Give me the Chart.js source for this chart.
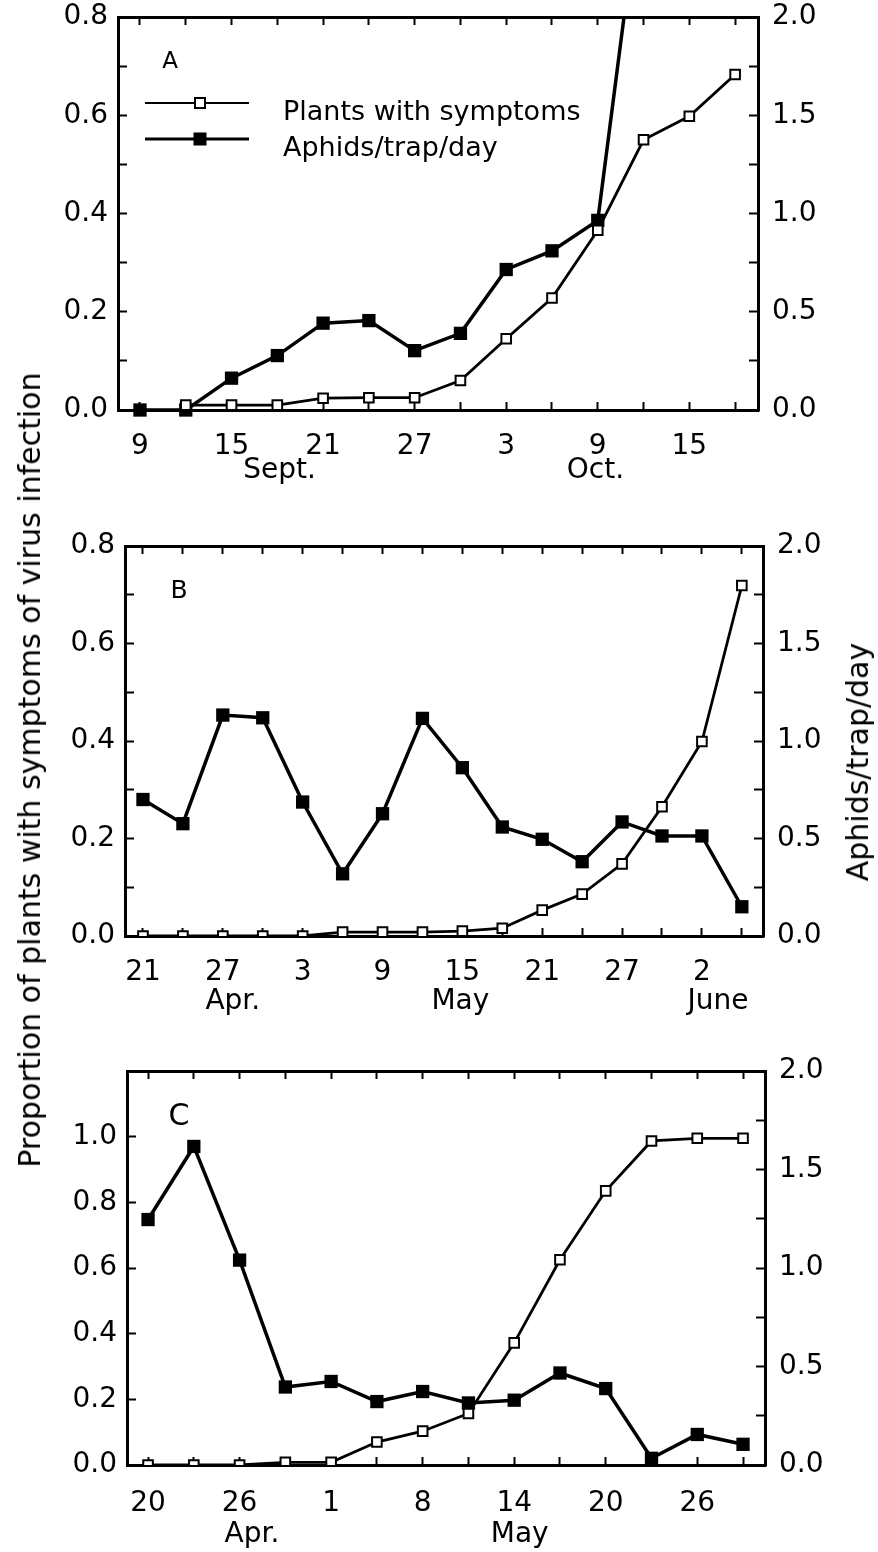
<!DOCTYPE html>
<html>
<head>
<meta charset="utf-8">
<script src="https://cdn.jsdelivr.net/npm/chart.js@4.4.1/dist/chart.umd.min.js"></script>
<style>
html,body{margin:0;padding:0;background:#fff;}
body{width:878px;height:1552px;position:relative;overflow:hidden;font-family:"DejaVu Sans",sans-serif;color:#000;}
.panel{position:absolute;left:0;width:878px;}
.ttl{position:absolute;white-space:nowrap;font-size:30px;line-height:1;transform:translate(-50%,-50%) rotate(-90deg);}
</style>
</head>
<body>
<div class="panel" style="top:0;height:500px"><canvas id="cA"></canvas></div>
<div class="panel" style="top:520px;height:520px"><canvas id="cB"></canvas></div>
<div class="panel" style="top:1050px;height:502px"><canvas id="cC"></canvas></div>
<div class="ttl" style="left:30px;top:770px">Proportion of plants with symptoms of virus infection</div>
<div class="ttl" style="left:858px;top:762px">Aphids/trap/day</div>
<script>
// panel A: Sept.-Oct., sampled every 3 days
const aDates=['9 Sept','12 Sept','15 Sept','18 Sept','21 Sept','24 Sept','27 Sept','30 Sept','3 Oct','6 Oct','9 Oct','12 Oct','15 Oct','18 Oct'];
const aTickLabels=['9','','15','','21','','27','','3','','9','','15',''];
const aMonths=['Sept.','Oct.'];
const aMonthAt=[3.05,9.95];
const aPlants=[null,0.01,0.01,0.01,0.024,0.025,0.025,0.06,0.145,0.228,0.366,0.55,0.598,0.683];
const aAphids=[0,0,0.162,0.277,0.442,0.455,0.302,0.39,0.715,0.81,0.965,2.77,null,null];

// panel B: Apr.-June
const bDates=['21 Apr','24 Apr','27 Apr','30 Apr','3 May','6 May','9 May','12 May','15 May','18 May','21 May','24 May','27 May','30 May','2 June','5 June'];
const bTickLabels=['21','','27','','3','','9','','15','','21','','27','','2',''];
const bMonths=['Apr.','May','June'];
const bMonthAt=[2.25,7.95,14.4];
const bPlants=[0,0,0,0,0,0.008,0.008,0.008,0.01,0.016,0.053,0.086,0.148,0.265,0.399,0.719];
const bAphids=[0.70,0.576,1.133,1.119,0.687,0.319,0.627,1.116,0.863,0.559,0.496,0.381,0.585,0.513,0.513,0.150];

// panel C: Apr.-May
const cDates=['20 Apr','23 Apr','26 Apr','29 Apr','1 May','4 May','8 May','11 May','14 May','17 May','20 May','23 May','26 May','29 May'];
const cTickLabels=['20','','26','','1','','8','','14','','20','','26',''];
const cMonths=['Apr.','May'];
const cMonthAt=[2.27,8.12];
const cPlants=[0,0,0,0.008,0.008,0.07,0.103,0.157,0.372,0.625,0.835,0.987,0.995,0.995];
const cAphids=[1.246,1.617,1.04,0.396,0.424,0.322,0.373,0.315,0.329,0.467,0.388,0.034,0.155,0.105];

// y axis ticks (minor marks carry empty labels)
const propTicks08=[0,0.1,0.2,0.3,0.4,0.5,0.6,0.7,0.8];
const propLabels08=['0.0','','0.2','','0.4','','0.6','','0.8'];
const propTicks12=[0,0.1,0.2,0.3,0.4,0.5,0.6,0.7,0.8,0.9,1.0,1.1,1.2];
const propLabels12=['0.0','','0.2','','0.4','','0.6','','0.8','','1.0','',''];
const aphidTicks=[0,0.25,0.5,0.75,1.0,1.25,1.5,1.75,2.0];
const aphidLabels=['0.0','','0.5','','1.0','','1.5','','2.0'];

const FONT='"DejaVu Sans", sans-serif';
const W=878;

const decor={
  id:'decor',
  afterDraw(chart,args,o){
    const {ctx,chartArea:a}=chart;
    ctx.save();
    ctx.fillStyle='#000';
    ctx.font=o.letterSize+'px '+FONT;
    ctx.textAlign='center';
    ctx.textBaseline='alphabetic';
    ctx.fillText(o.letter,a.left+o.lx,a.top+o.ly);
    if(o.legend){
      ctx.font='27px '+FONT;
      ctx.textAlign='left';
      o.legend.forEach(r=>{
        const y=a.top+r.y;
        ctx.strokeStyle='#000';
        ctx.lineWidth=r.lw;
        ctx.beginPath();ctx.moveTo(a.left+27,y);ctx.lineTo(a.left+131,y);ctx.stroke();
        if(r.filled){
          ctx.fillRect(a.left+82-6.5,y-6.5,13,13);
        }else{
          ctx.fillStyle='#fff';ctx.fillRect(a.left+82-5,y-5,10,10);
          ctx.fillStyle='#000';ctx.lineWidth=2;ctx.strokeRect(a.left+82-5,y-5,10,10);
        }
        ctx.fillText(r.label,a.left+165,y+17);
      });
    }
    ctx.restore();
  }
};

function makePanel(id,p){
  const n=p.dates.length;
  const pts=arr=>arr.map((v,i)=>({x:i,y:v}));
  const xTicks=[];
  for(let i=0;i<n;i++) xTicks.push({value:i,label:p.tickLabels[i]});
  p.monthAt.forEach((v,i)=>xTicks.push({value:v,month:p.months[i]}));
  xTicks.sort((u,v)=>u.value-v.value);
  const tickGrid=len=>({display:true,drawOnChartArea:false,drawTicks:true,tickLength:len,
    tickColor:'#000',tickWidth:c=>(c.tick&&c.tick.month)?0:2});
  const border={display:true,color:'#000',width:3};
  const tickFont={family:FONT,size:28};
  const noPadV=s=>{s.paddingTop=0;s.paddingBottom=0;};
  const noPadH=s=>{s.paddingLeft=0;s.paddingRight=0;};
  return new Chart(document.getElementById(id),{
    type:'line',
    data:{datasets:[
      {label:'Plants with symptoms',data:pts(p.plants),yAxisID:'y',
       borderColor:'#000',borderWidth:2.8,pointStyle:'rect',pointRadius:6.8,
       pointBackgroundColor:'#fff',pointBorderColor:'#000',pointBorderWidth:2,tension:0},
      {label:'Aphids/trap/day',data:pts(p.aphids),yAxisID:'y1',
       borderColor:'#000',borderWidth:3.5,pointStyle:'rect',pointRadius:9.4,
       pointBackgroundColor:'#000',pointBorderColor:'#000',pointBorderWidth:0,tension:0,
       clip:{left:20,right:20,top:0,bottom:20}}
    ]},
    options:{
      responsive:true,maintainAspectRatio:false,animation:false,
      layout:{padding:{top:p.top,left:0,right:0,bottom:0}},
      plugins:{legend:{display:false},tooltip:{enabled:false},
        decor:{letter:p.letter,letterSize:p.letterSize,lx:p.lx,ly:p.ly,legend:p.legend}},
      scales:{
        x:{type:'linear',position:'bottom',min:p.xmin,max:p.xmax,
          afterBuildTicks:s=>{s.ticks=xTicks.map(t=>({...t}));},
          afterFit:s=>{s.height=p.h-p.bottom;noPadH(s);},
          ticks:{autoSkip:false,maxRotation:0,color:'#000',padding:p.xPad,
            font:{family:FONT,size:28,lineHeight:p.lh},
            callback:(v,i,ts)=>ts[i].month?['',ts[i].month]:ts[i].label},
          grid:tickGrid(-8),border},
        xTop:{type:'linear',axis:'x',position:'top',min:p.xmin,max:p.xmax,
          afterBuildTicks:s=>{s.ticks=xTicks.filter(t=>!t.month).map(t=>({value:t.value}));},
          afterFit:s=>{s.height=0;noPadH(s);},
          ticks:{display:false},grid:tickGrid(-8),border},
        y:{type:'linear',position:'left',min:0,max:p.propTicks[p.propTicks.length-1],
          afterBuildTicks:s=>{s.ticks=p.propTicks.map(v=>({value:v}));},
          afterFit:s=>{s.width=p.left;noPadV(s);},
          ticks:{color:'#000',padding:19,font:tickFont,callback:(v,i)=>p.propLabels[i]},
          grid:tickGrid(-9),border},
        y1:{type:'linear',position:'right',min:0,max:2,
          afterBuildTicks:s=>{s.ticks=aphidTicks.map(v=>({value:v}));},
          afterFit:s=>{s.width=W-p.right;noPadV(s);},
          ticks:{color:'#000',padding:23,font:tickFont,callback:(v,i)=>aphidLabels[i]},
          grid:tickGrid(-9),border}
      }
    },
    plugins:[decor]
  });
}

makePanel('cA',{dates:aDates,tickLabels:aTickLabels,months:aMonths,monthAt:aMonthAt,
  plants:aPlants,aphids:aAphids,propTicks:propTicks08,propLabels:propLabels08,
  h:500,top:17,bottom:410,left:118,right:758,xmin:-0.48,xmax:13.5,lh:0.857,xPad:33,
  letter:'A',letterSize:23,lx:52,ly:51,
  legend:[{label:'Plants with symptoms',y:86,lw:2,filled:false},
          {label:'Aphids/trap/day',y:122,lw:3,filled:true}]});

makePanel('cB',{dates:bDates,tickLabels:bTickLabels,months:bMonths,monthAt:bMonthAt,
  plants:bPlants,aphids:bAphids,propTicks:propTicks08,propLabels:propLabels08,
  h:520,top:26,bottom:416,left:125,right:763,xmin:-0.45,xmax:15.53,lh:1.036,xPad:30.5,
  letter:'B',letterSize:25,lx:54,ly:52});

makePanel('cC',{dates:cDates,tickLabels:cTickLabels,months:cMonths,monthAt:cMonthAt,
  plants:cPlants,aphids:cAphids,propTicks:propTicks12,propLabels:propLabels12,
  h:502,top:21,bottom:415,left:127,right:765,xmin:-0.46,xmax:13.48,lh:1.107,xPad:31.5,
  letter:'C',letterSize:30,lx:52,ly:54});
</script>
</body>
</html>
